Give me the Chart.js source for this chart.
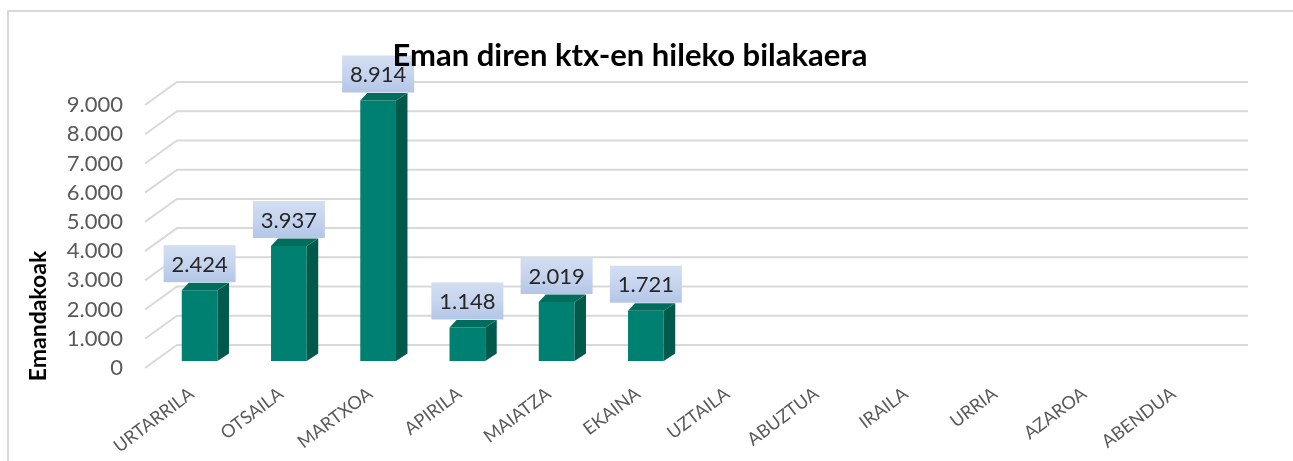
<!DOCTYPE html>
<html>
<head>
<meta charset="utf-8">
<script src="https://cdn.jsdelivr.net/npm/chart.js@4.4.0/dist/chart.umd.min.js"></script>
<style>
  html, body { margin: 0; padding: 0; background: #fff; }
</style>
</head>
<body>
<canvas id="chart" width="1293" height="461"></canvas>
<script>
const months = ['URTARRILA', 'OTSAILA', 'MARTXOA', 'APIRILA', 'MAIATZA', 'EKAINA',
                'UZTAILA', 'ABUZTUA', 'IRAILA', 'URRIA', 'AZAROA', 'ABENDUA'];
const values = [2424, 3937, 8914, 1148, 2019, 1721, null, null, null, null, null, null];
const yTicks = [0, 1000, 2000, 3000, 4000, 5000, 6000, 7000, 8000, 9000];
const chartTitle = 'Eman diren ktx-en hileko bilakaera';
const yTitle = 'Emandakoak';

// thousands with a dot, like the excel original
function fmt(v) {
    return String(v).replace(/\B(?=(\d{3})+(?!\d))/g, '.');
}

const DX = 11.5, DY = -7.5; // bar depth

const frame = {
    id: 'frame',
    beforeDraw(chart) {
        const { ctx } = chart;
        ctx.save();
        ctx.fillStyle = '#fff';
        ctx.fillRect(0, 0, chart.width, chart.height);
        ctx.strokeStyle = '#d9d9d9';
        ctx.lineWidth = 2;
        ctx.strokeRect(8, 11, chart.width + 20, chart.height + 20);
        ctx.restore();
    }
};

// back wall + side wall gridlines
const wallGrid = {
    id: 'wallGrid',
    beforeDatasetsDraw(chart) {
        const { ctx, chartArea, scales: { y } } = chart;
        ctx.save();
        ctx.strokeStyle = '#d9d9d9';
        ctx.lineWidth = 2;
        yTicks.forEach(v => {
            const py = y.getPixelForValue(v);
            ctx.beginPath();
            ctx.moveTo(chartArea.left - 10, py + 7);
            ctx.lineTo(chartArea.left + 22, py - 16);
            ctx.lineTo(chartArea.right + 22, py - 16);
            ctx.stroke();
        });
        ctx.restore();
    }
};

const bars3d = {
    id: 'bars3d',
    afterDatasetsDraw(chart) {
        const { ctx } = chart;
        ctx.save();
        chart.getDatasetMeta(0).data.forEach((bar, i) => {
            if (values[i] == null) return;
            const x0 = bar.x - bar.width / 2, x1 = bar.x + bar.width / 2;
            const yt = bar.y, yb = bar.base;
            // side
            ctx.fillStyle = '#005a4c';
            ctx.beginPath();
            ctx.moveTo(x1, yt);
            ctx.lineTo(x1 + DX, yt + DY);
            ctx.lineTo(x1 + DX, yb + DY);
            ctx.lineTo(x1, yb);
            ctx.closePath();
            ctx.fill();
            // top
            ctx.fillStyle = '#006d5e';
            ctx.beginPath();
            ctx.moveTo(x0, yt);
            ctx.lineTo(x0 + 7, yt + DY);
            ctx.lineTo(x1 + DX, yt + DY);
            ctx.lineTo(x1, yt);
            ctx.closePath();
            ctx.fill();

            // data label box
            const bw = 72, bh = 37;
            const bx = bar.x - bw / 2, by = yt - 8 - bh;
            const g = ctx.createLinearGradient(0, by, 0, by + bh);
            g.addColorStop(0, '#d3def1');
            g.addColorStop(0.5, '#c6d4ee');
            g.addColorStop(1, '#b3c6e7');
            ctx.fillStyle = g;
            ctx.fillRect(bx, by, bw, bh);
            ctx.fillStyle = '#262626';
            ctx.font = '22px Lato';
            ctx.textAlign = 'center';
            ctx.textBaseline = 'middle';
            ctx.fillText(fmt(values[i]), bar.x, by + bh / 2 + 1);
        });
        ctx.restore();
    }
};

const titles = {
    id: 'titles',
    afterDraw(chart) {
        const { ctx } = chart;
        ctx.save();
        ctx.fillStyle = '#000';
        ctx.font = 'bold 31px Lato';
        ctx.textAlign = 'center';
        ctx.textBaseline = 'middle';
        ctx.fillText(chartTitle, 630, 56);
        ctx.translate(39, 316);
        ctx.rotate(-Math.PI / 2);
        ctx.font = 'bold 23px Lato';
        ctx.fillText(yTitle, 0, 0);
        ctx.restore();
    }
};

new Chart(document.getElementById('chart').getContext('2d'), {
    type: 'bar',
    data: {
        labels: months,
        datasets: [{
            data: values,
            backgroundColor: '#008070',
            categoryPercentage: 1,
            barPercentage: 0.4
        }]
    },
    options: {
        responsive: false,
        animation: false,
        layout: { padding: { left: 0, top: 98, right: 67, bottom: 0 } },
        plugins: {
            legend: { display: false },
            tooltip: { enabled: false }
        },
        scales: {
            x: {
                grid: { display: false, drawTicks: false },
                border: { display: false },
                ticks: {
                    autoSkip: false,
                    minRotation: 37,
                    maxRotation: 37,
                    padding: 22,
                    labelOffset: -8,
                    color: '#595959',
                    font: { family: 'Lato', size: 18 }
                },
                afterFit(scale) { scale.height = 100; }
            },
            y: {
                min: 0,
                max: 9000,
                grid: { display: false, drawTicks: false },
                border: { display: false },
                ticks: {
                    autoSkip: false,
                    stepSize: 1000,
                    padding: 32,
                    labelOffset: 7,
                    color: '#595959',
                    font: { family: 'Lato', size: 22 },
                    callback: v => fmt(v)
                },
                afterFit(scale) { scale.width = 155; }
            }
        }
    },
    plugins: [frame, wallGrid, bars3d, titles]
});
</script>
</body>
</html>
